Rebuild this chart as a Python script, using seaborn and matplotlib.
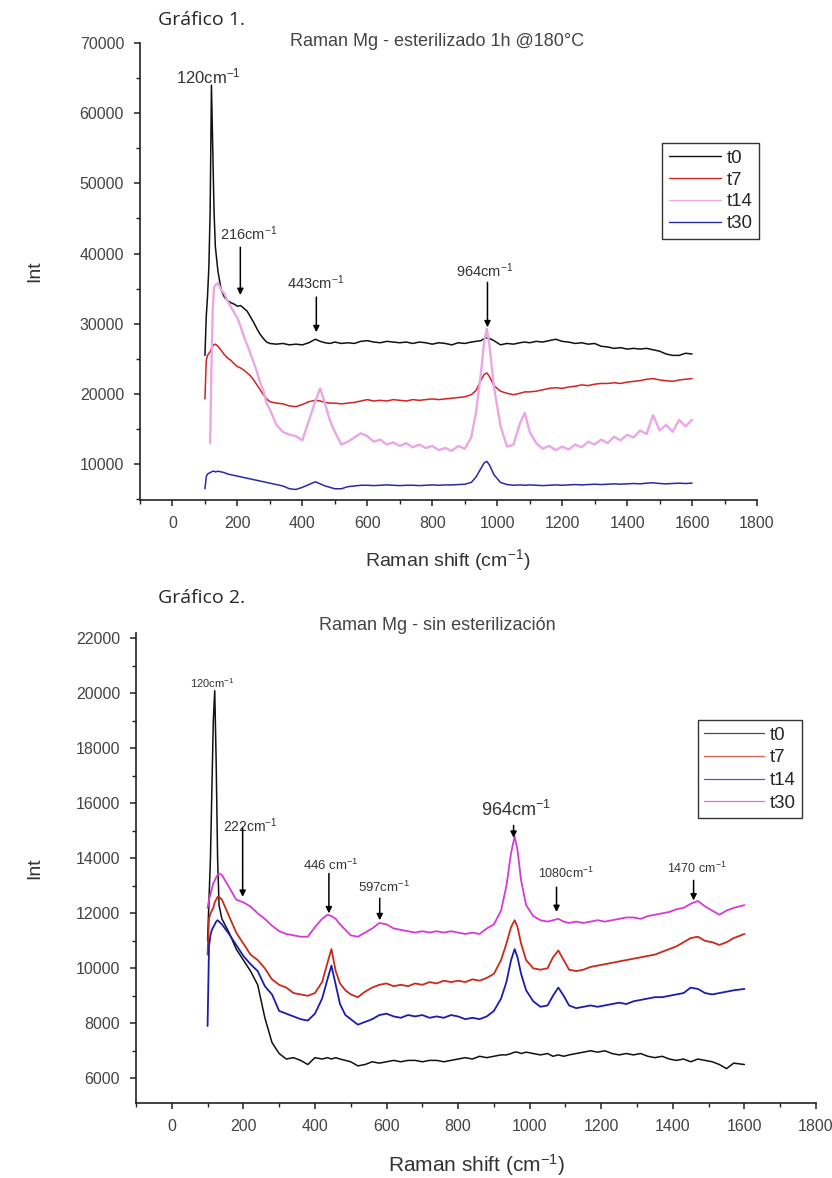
import numpy as np
import pandas as pd
import seaborn as sns
import matplotlib.pyplot as plt
from matplotlib.lines import Line2D
from matplotlib.ticker import MultipleLocator

sns.set_theme(style='ticks')
plt.rcParams['font.family'] = ['Liberation Sans', 'DejaVu Sans']
plt.rcParams['mathtext.fontset'] = 'custom'
plt.rcParams['mathtext.rm'] = 'Liberation Sans'
plt.rcParams['mathtext.it'] = 'Liberation Sans:italic'
plt.rcParams['mathtext.bf'] = 'Liberation Sans:bold'

nan = np.nan
labels = ['t0', 't7', 't14', 't30']

# ---- Gráfico 1: esterilizado 1h @180°C ----
shift_g1 = [100, 104, 108, 112, 116, 120, 124, 128, 132,
            140, 150, 160, 170, 180, 190, 200, 210, 220, 230, 240, 250, 260, 270, 280, 290, 300,
            320, 340, 360, 380, 400, 420, 440, 455, 470, 485, 500,
            520, 540, 560, 580, 600, 620, 640, 660, 680, 700, 720, 740, 760, 780, 800,
            820, 840, 860, 880, 900, 920, 935, 950, 960, 968, 976, 990,
            1010, 1030, 1050, 1070, 1085, 1100, 1120, 1140, 1160, 1180, 1200,
            1220, 1240, 1260, 1280, 1300, 1320, 1340, 1360, 1380, 1400, 1420,
            1440, 1460, 1480, 1500, 1520, 1540, 1560, 1580, 1600]

t0_g1 = [25500, 31000, 34000, 38000, 46000, 64000, 55000, 46000, 41000,
         37500, 34800, 33800, 33300, 33000, 32800, 32500, 32600, 32200, 31800, 31000, 30200, 29300, 28500, 27900, 27400, 27200,
         27100, 27200, 27000, 27100, 27000, 27300, 27800, 27500, 27300, 27200, 27400,
         27200, 27300, 27200, 27500, 27600, 27400, 27300, 27500, 27400, 27300, 27400, 27200, 27400, 27300, 27100,
         27300, 27200, 27000, 27300, 27200, 27400, 27500, 27600, 27900, 28000, 27900, 27600,
         27000, 27200, 27100, 27300, 27400, 27300, 27500, 27400, 27600, 27800, 27500,
         27400, 27200, 27300, 27100, 27200, 26800, 26700, 26500, 26600, 26400, 26500,
         26400, 26500, 26300, 26100, 25700, 25500, 25500, 25800, 25700]

t7_g1 = [19300, 24800, 25500, 25800, 26000, 26500, 26900, 27000, 27100,
         26800, 26200, 25600, 25100, 24800, 24300, 23900, 23700, 23400, 23000, 22600, 22000, 21300, 20600, 19900, 19300, 18900,
         18700, 18600, 18300, 18200, 18500, 18900, 19100, 19000, 18800, 18700, 18700,
         18600, 18700, 18800, 19000, 19200, 19000, 19100, 19000, 19200, 19100, 19000, 19200, 19100, 19200, 19300,
         19200, 19300, 19400, 19500, 19600, 19900, 20500, 22000, 22800, 23000, 22500, 21200,
         20400, 20100, 19900, 20100, 20300, 20300, 20400, 20600, 20800, 20900, 20800,
         21000, 21100, 21300, 21200, 21400, 21500, 21500, 21600, 21500, 21700, 21800,
         21900, 22100, 22200, 22000, 21900, 21800, 22000, 22100, 22200]

t14_g1 = [nan, nan, nan, nan, 13000, 24000, 32000, 35200, 35500,
          35800, 34800, 34300, 33200, 32400, 31600, 30800, 29600, 28200, 27000, 25800, 24500, 23200, 21600, 20500, 18600, 17800,
          15600, 14600, 14200, 14000, 13400, 16200, 19000, 20800, 18600, 16200, 14600,
          12800, 13200, 13800, 14400, 14000, 13200, 13500, 12800, 13100, 12600, 13000, 12400, 12800, 12300, 12600,
          12000, 12300, 11900, 12600, 12200, 13800, 17500, 23000, 27500, 29300, 27000, 21000,
          15500, 12500, 12800, 15800, 17300, 14600, 13000, 12200, 12600, 12000, 12500,
          12100, 12800, 12400, 13200, 12800, 13500, 13000, 13900, 13400, 14200, 13800,
          14800, 14300, 17000, 14800, 15600, 14600, 16300, 15400, 16300]

t30_g1 = [6500, 8200, 8600, 8700, 8800, 8900, 9000, 9000, 8900,
          9000, 8900, 8800, 8600, 8500, 8400, 8300, 8200, 8100, 8000, 7900, 7800, 7700, 7600, 7500, 7400, 7300,
          7100, 6900, 6500, 6400, 6700, 7100, 7500, 7200, 6900, 6700, 6500,
          6500, 6800, 6900, 7000, 7000, 6950, 7000, 7050, 7000, 6950, 7000, 7000, 6950, 7000, 7050,
          7000, 7050, 7050, 7100, 7150, 7400, 8200, 9400, 10200, 10400, 9900, 8500,
          7400, 7100, 7000, 7050, 7000, 7050, 7000, 6950, 7000, 7050, 7000,
          7050, 7100, 7050, 7100, 7150, 7100, 7150, 7200, 7150, 7200, 7250,
          7200, 7300, 7350, 7250, 7200, 7250, 7300, 7250, 7300]

colors_g1 = ['#111111', '#d42222', '#eba6e6', '#2a2aa8']
widths_g1 = [1.1, 1.1, 1.7, 1.1]

# peak labels: (text, text x, text y, arrow x, arrow top, arrow tip, fontsize)
peaks_g1 = [('120', 111, 65300, None, None, None, 12),
            ('216', 234, 42900, 209, 40900, 34100, 10.5),
            ('443', 440, 35800, 443, 33800, 28800, 10.5),
            ('964', 960, 37600, 970, 35900, 29500, 10.5)]

# ---- Gráfico 2: sin esterilización ----
shift_g2 = [100, 104, 108, 112, 116, 120, 124, 128, 132,
            140, 160, 180, 200, 220, 240, 260, 280, 300,
            320, 340, 360, 380, 400, 420, 435, 446, 458, 470, 485, 500,
            520, 540, 560, 580, 600, 620, 640, 660, 680, 700, 720, 740, 760, 780, 800,
            820, 840, 860, 880, 900, 920, 935, 948, 958, 966, 976, 990,
            1010, 1030, 1050, 1065, 1080, 1095, 1110, 1130, 1150, 1170, 1190,
            1210, 1230, 1250, 1270, 1290, 1310, 1330, 1350, 1370, 1390, 1410,
            1430, 1450, 1470, 1490, 1510, 1530, 1550, 1570, 1600]

t0_g2 = [11000, 12500, 14000, 16500, 19000, 20100, 17500, 14000, 12300,
         11800, 11300, 10700, 10300, 9900, 9400, 8200, 7300, 6900,
         6700, 6750, 6650, 6500, 6750, 6700, 6750, 6700, 6750, 6700, 6650, 6600,
         6450, 6500, 6600, 6550, 6600, 6650, 6600, 6650, 6650, 6600, 6650, 6650, 6600, 6650, 6700,
         6750, 6700, 6800, 6750, 6800, 6850, 6850, 6900, 6950, 6950, 6900, 6950,
         6900, 6850, 6900, 6800, 6850, 6800, 6850, 6900, 6950, 7000, 6950,
         7000, 6900, 6850, 6900, 6850, 6900, 6800, 6750, 6800, 6700, 6650,
         6700, 6600, 6700, 6650, 6600, 6500, 6350, 6550, 6500]

t7_g2 = [10500, 11800, 12000, 12100, 12200, 12400, 12500, 12600, 12600,
         12500, 11900, 11300, 10900, 10500, 10300, 10000, 9600, 9400,
         9300, 9100, 9050, 9000, 9100, 9500, 10200, 10700, 9900, 9450, 9200, 9050,
         8950, 9150, 9300, 9400, 9450, 9350, 9400, 9350, 9450, 9400, 9500, 9450, 9550, 9500, 9550,
         9500, 9600, 9550, 9650, 9800, 10300, 10900, 11500, 11750, 11500, 10900, 10300,
         10000, 9950, 10000, 10400, 10650, 10300, 9950, 9900, 9950, 10050, 10100,
         10150, 10200, 10250, 10300, 10350, 10400, 10450, 10500, 10600, 10700, 10800,
         10950, 11100, 11150, 11000, 10950, 10850, 10950, 11100, 11250]

t14_g2 = [7900, 10800, 11200, 11400, 11500, 11600, 11700, 11750, 11700,
          11600, 11250, 10850, 10450, 10150, 9900, 9350, 9050, 8450,
          8350, 8250, 8150, 8100, 8350, 8900, 9600, 10100, 9400, 8700, 8300, 8150,
          7950, 8050, 8150, 8300, 8350, 8250, 8200, 8300, 8250, 8300, 8200, 8250, 8200, 8300, 8250,
          8150, 8200, 8150, 8250, 8450, 8900, 9500, 10300, 10700, 10400, 9800, 9200,
          8800, 8600, 8650, 9000, 9300, 9000, 8650, 8550, 8600, 8650, 8600,
          8650, 8700, 8750, 8700, 8800, 8850, 8900, 8950, 8950, 9000, 9050,
          9100, 9300, 9250, 9100, 9050, 9100, 9150, 9200, 9250]

t30_g2 = [12200, 12500, 12700, 12900, 13100, 13200, 13300, 13400, 13450,
          13400, 12950, 12500, 12400, 12250, 12000, 11800, 11550, 11350,
          11250, 11200, 11150, 11150, 11500, 11800, 11950, 11900, 11800, 11600, 11400, 11200,
          11150, 11300, 11450, 11650, 11600, 11450, 11400, 11350, 11300, 11350, 11300, 11350, 11300, 11350, 11300,
          11250, 11300, 11250, 11450, 11600, 12100, 13000, 14200, 14800, 14300, 13200, 12300,
          11900, 11750, 11700, 11750, 11800, 11700, 11650, 11700, 11650, 11700, 11750,
          11700, 11750, 11800, 11850, 11850, 11800, 11900, 11950, 12000, 12050, 12150,
          12200, 12350, 12450, 12250, 12100, 11950, 12100, 12200, 12300]

colors_g2 = ['#111111', '#c92a1c', '#1c1cae', '#d63ad6']
widths_g2 = [1.1, 1.3, 1.3, 1.3]

peaks_g2 = [('120', 112, 20360, None, None, None, 8),
            ('222', 218, 15200, 198, 15100, 12600, 10),
            ('446 ', 444, 13750, 439, 13450, 12000, 9.5),
            ('597', 592, 12950, 581, 12550, 11750, 9.5),
            ('964', 961, 15750, 955, 15200, 14750, 13),
            ('1080', 1103, 13450, 1075, 12950, 12050, 9),
            ('1470 ', 1466, 13650, 1458, 13200, 12470, 9)]

W, H = 832, 1178
fig = plt.figure(figsize=(W / 100, H / 100), dpi=100)
ax1 = fig.add_axes([140 / W, 1 - 500 / H, 617 / W, 457 / H])
ax2 = fig.add_axes([136 / W, 1 - 1103 / H, 680 / W, 470 / H])


def draw(ax, shift, series, colors, widths):
    df = pd.DataFrame({'shift': shift})
    for name, vals in zip(labels, series):
        df[name] = vals
    long = df.melt(id_vars='shift', var_name='serie', value_name='int').dropna()
    # one call per series so each can keep its own line width
    for name, col, lw in zip(labels, colors, widths):
        sns.lineplot(data=long[long['serie'] == name], x='shift', y='int', color=col,
                     estimator=None, errorbar=None, linewidth=lw, legend=False, ax=ax)


def style(ax, ymaj, ymin, tick_size):
    sns.despine(ax=ax)
    for s in ['left', 'bottom']:
        ax.spines[s].set_linewidth(1.2)
        ax.spines[s].set_color('#222222')
    ax.set_xlim(-100, 1800)
    ax.xaxis.set_major_locator(MultipleLocator(200))
    ax.xaxis.set_minor_locator(MultipleLocator(100))
    ax.yaxis.set_major_locator(MultipleLocator(ymaj))
    ax.yaxis.set_minor_locator(MultipleLocator(ymin))
    ax.tick_params(which='major', direction='out', length=4.5, width=1.1, color='#222222',
                   labelcolor='#444444', labelsize=tick_size, pad=7)
    ax.tick_params(which='minor', direction='out', length=2.8, width=1.0, color='#222222')
    ax.set_xlabel('')
    ax.set_ylabel('')


def mark_peaks(ax, peaks):
    for txt, tx, ty, ax_x, a_top, a_tip, fs in peaks:
        ax.text(tx, ty, txt + r'cm$^{-1}$', ha='center', va='center', fontsize=fs, color='#333333')
        if ax_x is not None:
            ax.annotate('', xy=(ax_x, a_tip), xytext=(ax_x, a_top),
                        arrowprops=dict(arrowstyle='-|>', color='black', lw=1.1,
                                        mutation_scale=9, shrinkA=0, shrinkB=0))


draw(ax1, shift_g1, [t0_g1, t7_g1, t14_g1, t30_g1], colors_g1, widths_g1)
style(ax1, 10000, 5000, 11.5)
ax1.set_ylim(4900, 70000)
mark_peaks(ax1, peaks_g1)
h1 = [Line2D([], [], color=c, lw=1.0) for c in colors_g1]
ax1.legend(h1, labels, loc='upper left', bbox_to_anchor=(0.846, 0.781), fontsize=13.5,
           frameon=True, fancybox=False, edgecolor='#333333', framealpha=1,
           handlelength=2.8, handletextpad=0.3, labelspacing=0.25, borderpad=0.35,
           borderaxespad=0)

draw(ax2, shift_g2, [t0_g2, t7_g2, t14_g2, t30_g2], colors_g2, widths_g2)
style(ax2, 2000, 1000, 11.5)
ax2.set_ylim(5100, 22200)
mark_peaks(ax2, peaks_g2)
h2 = [Line2D([], [], color=c, lw=0.9, alpha=0.75) for c in colors_g2]
ax2.legend(h2, labels, loc='upper left', bbox_to_anchor=(0.826, 0.815), fontsize=13.5,
           frameon=True, fancybox=False, edgecolor='#333333', framealpha=1,
           handlelength=3.2, handletextpad=0.3, labelspacing=0.3, borderpad=0.35,
           borderaxespad=0)

# figure texts
fig.text(158 / W, 1 - 20 / H, 'Gráfico 1.', family='Open Sans', fontsize=14, va='center', ha='left')
fig.text(437 / W, 1 - 42 / H, 'Raman Mg - esterilizado 1h @180°C', ha='center', va='center',
         fontsize=13, color='#444444')
fig.text(448 / W, 1 - 560 / H, r'Raman shift (cm$^{-1}$)', ha='center', va='center',
         fontsize=14, color='#333333')
fig.text(35 / W, 1 - 271 / H, 'Int', rotation=90, ha='center', va='center', fontsize=14,
         color='#333333')

fig.text(158 / W, 1 - 598 / H, 'Gráfico 2.', family='Open Sans', fontsize=14, va='center', ha='left')
fig.text(437 / W, 1 - 626 / H, 'Raman Mg - sin esterilización', ha='center', va='center',
         fontsize=13, color='#444444')
fig.text(476 / W, 1 - 1165 / H, r'Raman shift (cm$^{-1}$)', ha='center', va='center',
         fontsize=15, color='#333333')
fig.text(35 / W, 1 - 868 / H, 'Int', rotation=90, ha='center', va='center', fontsize=14,
         color='#333333')

fig.savefig('out.png', dpi=100)
